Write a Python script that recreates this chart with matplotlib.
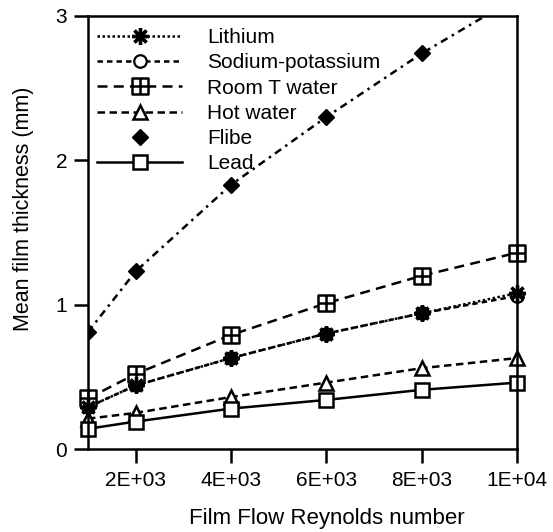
import matplotlib.pyplot as plt
from matplotlib.path import Path
from matplotlib.lines import Line2D

plt.rcParams['font.family'] = ['Liberation Sans', 'DejaVu Sans']

# Film flow Reynolds number
reynolds = [1000, 2000, 4000, 6000, 8000, 10000]

# Mean film thickness (mm)
lithium = [0.29, 0.44, 0.63, 0.80, 0.94, 1.08]
sodium_potassium = [0.29, 0.44, 0.63, 0.80, 0.94, 1.06]
room_t_water = [0.35, 0.52, 0.79, 1.01, 1.20, 1.36]
hot_water = [0.21, 0.25, 0.36, 0.46, 0.56, 0.63]
flibe = [0.81, 1.23, 1.83, 2.30, 2.74, 3.13]
lead = [0.14, 0.19, 0.28, 0.34, 0.41, 0.46]

x_ticks = [2000, 4000, 6000, 8000, 10000]
x_ticklabels = ['2E+03', '4E+03', '6E+03', '8E+03', '1E+04']
y_ticks = [0, 1, 2, 3]

# square with a cross inside (Room T water marker)
boxplus = Path(
    [(-1, -1), (1, -1), (1, 1), (-1, 1), (-1, -1), (0, -1), (0, 1), (-1, 0), (1, 0)],
    [Path.MOVETO, Path.LINETO, Path.LINETO, Path.LINETO, Path.CLOSEPOLY,
     Path.MOVETO, Path.LINETO, Path.MOVETO, Path.LINETO])

fig = plt.figure(figsize=(5.53, 5.32), dpi=100)
ax = fig.add_axes([0.159, 0.156, 0.776, 0.814])

lw = 1.8
l_nak, = ax.plot(reynolds, sodium_potassium, color='black', lw=lw, ls=(0, (2.2, 1.6)),
                 marker='o', ms=9, mfc='white', mew=1.6, label='Sodium-potassium', clip_on=False)
l_li, = ax.plot(reynolds, lithium, color='black', lw=lw, ls=(0, (1, 1)),
                marker=(8, 2, 0), ms=12, mew=2.4, label='Lithium', clip_on=False, zorder=3)
l_rt, = ax.plot(reynolds, room_t_water, color='black', lw=lw, ls=(0, (4, 2.5)),
                marker=boxplus, ms=11, mfc='white', mew=1.8, label='Room T water', clip_on=False)
l_hw, = ax.plot(reynolds, hot_water, color='black', lw=lw, ls=(0, (3, 1.8)),
                marker='^', ms=10, mfc='white', mew=1.8, label='Hot water', clip_on=False)
ax.plot(reynolds, flibe, color='black', lw=lw, ls=(0, (3, 2, 1, 2)),
        marker='D', ms=8, label='Flibe')
l_pb, = ax.plot(reynolds, lead, color='black', lw=lw, ls='-',
                marker='s', ms=10.5, mfc='white', mew=1.8, label='Lead', clip_on=False)

flibe_handle = Line2D([], [], color='black', ls='none', marker='D', ms=8)
ax.legend([l_li, l_nak, l_rt, l_hw, flibe_handle, l_pb],
          ['Lithium', 'Sodium-potassium', 'Room T water', 'Hot water', 'Flibe', 'Lead'],
          loc='upper left', bbox_to_anchor=(0.021, 0.972), frameon=False,
          fontsize=15, handlelength=4.1, handletextpad=1.2, labelspacing=0.3,
          borderpad=0, borderaxespad=0)

ax.set_xlim(1000, 10000)
ax.set_ylim(0, 3)
ax.set_xticks(x_ticks)
ax.set_xticklabels(x_ticklabels)
ax.set_yticks(y_ticks)
ax.tick_params(axis='x', direction='out', length=10, width=1.8, labelsize=15, pad=6)
ax.tick_params(axis='y', direction='out', length=10, width=1.8, labelsize=15, pad=5)
for s in ax.spines.values():
    s.set_linewidth(1.8)

ax.set_xlabel('Film Flow Reynolds number', fontsize=16)
ax.xaxis.set_label_coords(0.557, -0.136)
ax.set_ylabel('Mean film thickness (mm)', fontsize=15.5)
ax.yaxis.set_label_coords(-0.125, 0.554)

fig.savefig('out.png', dpi=100)
